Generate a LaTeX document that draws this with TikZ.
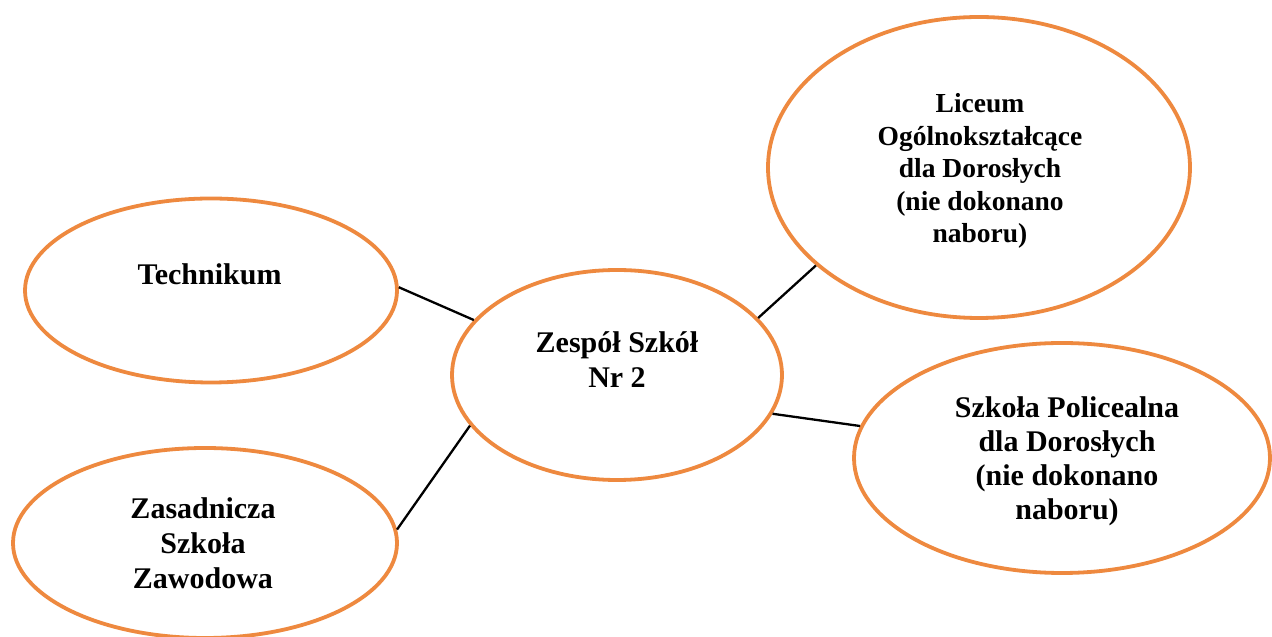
\documentclass[tikz,border=0pt]{standalone}
\usepackage{fontspec}
\setmainfont{Liberation Serif}
\usetikzlibrary{shapes.geometric}
\definecolor{ovalorange}{RGB}{238,137,63}
\begin{document}
\begin{tikzpicture}[x=1pt,y=1pt,
  oval/.style={ellipse, draw=ovalorange, line width=3.8pt, fill=white, inner sep=0pt},
  lbl/.style={font=\fontsize{30}{35}\selectfont\bfseries, align=center, inner sep=0pt, text=black},
  lblsmall/.style={font=\fontsize{27.5}{32.5}\selectfont\bfseries, align=center, inner sep=0pt, text=black},
  link/.style={draw=black, line width=2.3pt}]
\clip (0,0) rectangle (1272,637);
\fill[white] (0,0) rectangle (1272,637);
% ellipses
\node[oval, minimum width=372pt, minimum height=184pt] (tech) at (211,346.5) {};
\node[oval, minimum width=384pt, minimum height=190pt] (zas) at (205,94) {};
\node[oval, minimum width=330pt, minimum height=210pt] (zs) at (617,262) {};
\node[oval, minimum width=422pt, minimum height=301pt] (lic) at (979,469.5) {};
\node[oval, minimum width=416pt, minimum height=230pt] (pol) at (1062,179) {};
% texts
\node[lbl, anchor=base] (techtxt) at (209.5,352) {Technikum};
\node[lbl] (zastxt) at (203,94.2) {Zasadnicza\\Szkoła\\Zawodowa};
\node[lbl] (zstxt) at (617,277) {Zespół Szkół\\Nr 2};
\node[lblsmall] (lictxt) at (980,466) {Liceum\\Ogólnokształcące\\dla Dorosłych\\(nie dokonano\\naboru)};
\node[lbl, font=\fontsize{30}{34}\selectfont\bfseries] (poltxt) at (1067,175.5) {Szkoła Policealna\\dla Dorosłych\\(nie dokonano\\naboru)};
% connectors
\draw[link] (tech.1) -- (zs.159);
\draw[link] (zs.199.5) -- (zas.4.6);
\draw[link] (zs.22.8) -- (lic.211);
\draw[link] (zs.346.8) -- (pol.171.5);
\end{tikzpicture}
\end{document}
